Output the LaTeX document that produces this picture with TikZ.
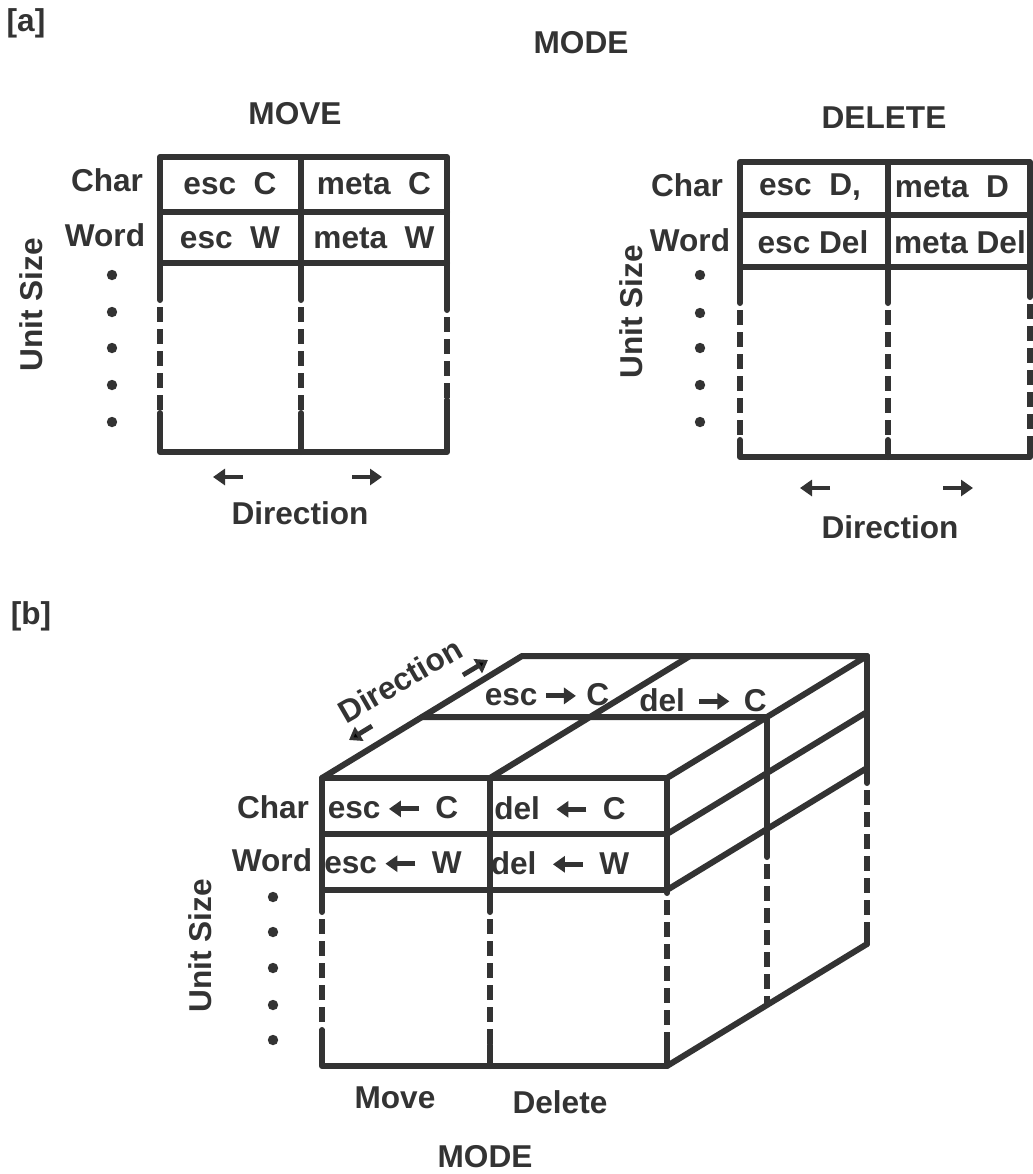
\documentclass[tikz,border=0pt]{standalone}
\usepackage{fontspec}
\setmainfont{Liberation Sans}
\usetikzlibrary{arrows.meta,positioning,calc}
\definecolor{inkgray}{HTML}{333333}

\newcommand{\leftarr}{\tikz[baseline={(0,-5pt)}]\draw[draw=inkgray,line width=2.4pt,-{Triangle[length=6pt,width=8pt]}] (0,0) -- (-15pt,0);}
\newcommand{\rightarr}{\tikz[baseline={(0,-5pt)}]\draw[draw=inkgray,line width=2.4pt,-{Triangle[length=6pt,width=8pt]}] (0,0) -- (15pt,0);}

\begin{document}
\begin{tikzpicture}[x=0.5pt,y=-0.5pt,
      lbl/.style={font=\fontsize{15.8}{18}\selectfont\bfseries,text=inkgray,inner sep=1pt},
      frame/.style={line width=3pt,draw=inkgray,line cap=round,line join=round},
      broken/.style={line width=3.2pt,draw=inkgray,dash pattern=on 7.5pt off 3.5pt,dash phase=7.5pt},
      dirarr/.style={line width=2.4pt,draw=inkgray,-{Triangle[length=6pt,width=8pt]}}]
    \useasboundingbox (0,0) rectangle (1033,1174);

    % (a) one table per mode
    \node[lbl] (tagA) at (26,23) {[a]};
    \node[lbl] (modeTop) at (581,43) {MODE};

    % MOVE table
    \node[lbl] (moveHead) at (295,114) {MOVE};
    \draw[frame] (160,300) -- (160,157) -- (447,157) -- (447,310);
    \draw[frame] (160,212) -- (447,212) (160,263) -- (447,263) (301,157) -- (301,300);
    \draw[broken] (160,300) -- (160,413) (301,300) -- (301,413) (447,310) -- (447,400);
    \draw[frame] (160,413) -- (160,452) -- (447,452) -- (447,400) (301,413) -- (301,452);
    \node[lbl] (mvEscC) at (230,184) {esc~~C};
    \node[lbl] (mvMetaC) at (374,184) {meta~~C};
    \node[lbl] (mvEscW) at (230,238) {esc~~W};
    \node[lbl] (mvMetaW) at (374,238) {meta~~W};
    \node[lbl] (mvChar) at (107,180) {Char};
    \node[lbl] (mvWord) at (105,235) {Word};
    \fill[inkgray] (112,275) circle[radius=2.6pt] (112,312) circle[radius=2.6pt]
      (112,348) circle[radius=2.6pt] (112,385) circle[radius=2.6pt] (112,422) circle[radius=2.6pt];
    \node[lbl,rotate=90] (mvUnit) at (31,305) {Unit Size};
    \draw[dirarr] (243,477) -- (213,477);
    \draw[dirarr] (352,477) -- (382,477);
    \node[lbl] (mvDir) at (300,513) {Direction};

    % DELETE table
    \node[lbl] (delHead) at (884,118) {DELETE};
    \draw[frame] (740,303) -- (740,162) -- (1030,162) -- (1030,297);
    \draw[frame] (740,215) -- (1030,215) (740,267) -- (1030,267) (888,162) -- (888,303);
    \draw[broken] (740,303) -- (740,440) (888,303) -- (888,440) (1030,297) -- (1030,440);
    \draw[frame] (740,440) -- (740,457) -- (1030,457) -- (1030,440) (888,440) -- (888,457);
    \node[lbl] (dlEscD) at (810,187) {esc~~D,};
    \node[lbl] (dlMetaD) at (952,187) {meta~~D};
    \node[lbl] (dlEscDel) at (813,242) {esc Del};
    \node[lbl] (dlMetaDel) at (960,242) {meta Del};
    \node[lbl] (dlChar) at (687,185) {Char};
    \node[lbl] (dlWord) at (690,240) {Word};
    \fill[inkgray] (700,275) circle[radius=2.6pt] (700,313) circle[radius=2.6pt]
      (700,348) circle[radius=2.6pt] (700,385) circle[radius=2.6pt] (700,422) circle[radius=2.6pt];
    \node[lbl,rotate=90] (dlUnit) at (631,312) {Unit Size};
    \draw[dirarr] (830,488) -- (800,488);
    \draw[dirarr] (943,488) -- (973,488);
    \node[lbl] (dlDir) at (890,527) {Direction};

    % (b) the three axes as one box
    \node[lbl] (tagB) at (31,616) {[b]};
    % top face
    \draw[frame] (322,778) -- (522,656) -- (867,656) -- (667,778);
    \draw[frame] (490,778) -- (690,656) (422,717) -- (767,717);
    % front face
    \draw[frame] (322,912) -- (322,778) -- (667,778) -- (667,893);
    \draw[frame] (322,834) -- (667,834) (322,890) -- (667,890) (490,778) -- (490,912);
    \draw[broken] (322,912) -- (322,1030) (490,912) -- (490,1045) (667,893) -- (667,1040);
    \draw[frame] (322,1030) -- (322,1066) -- (667,1066) -- (667,1040) (490,1045) -- (490,1066);
    % side face
    \draw[frame] (667,834) -- (867,712) (667,890) -- (867,768) (667,1066) -- (867,944);
    \draw[frame] (767,717) -- (767,857) (867,656) -- (867,783);
    \draw[broken] (767,857) -- (767,1005) (867,783) -- (867,932);
    \draw[frame] (867,932) -- (867,944);

    \node[lbl] (cbEscRC) at (547,695) {esc\hspace{3pt}\rightarr\hspace{4pt}C};
    \node[lbl] (cbDelRC) at (703,700) {del\hspace{6pt}\rightarr\hspace{6pt}C};
    \node[lbl] (cbEscLC) at (393,808) {esc\hspace{3pt}\leftarr\hspace{7pt}C};
    \node[lbl] (cbDelLC) at (560,808) {del\hspace{7pt}\leftarr\hspace{7pt}C};
    \node[lbl] (cbEscLW) at (393,863) {esc\hspace{3pt}\leftarr\hspace{7pt}W};
    \node[lbl] (cbDelLW) at (560,863) {del\hspace{7pt}\leftarr\hspace{7pt}W};
    \node[lbl] (cbChar) at (273,807) {Char};
    \node[lbl] (cbWord) at (272,860) {Word};
    \fill[inkgray] (273,897) circle[radius=2.6pt] (273,932) circle[radius=2.6pt]
      (273,968) circle[radius=2.6pt] (273,1005) circle[radius=2.6pt] (273,1040) circle[radius=2.6pt];
    \node[lbl,rotate=90] (cbUnit) at (200,946) {Unit Size};
    \node[lbl,rotate=30] (cbDir) at (400,680) {Direction};
    \draw[dirarr] (463,675) -- (488,660);
    \draw[dirarr] (372,726) -- (349,740);
    \node[lbl] (cbMove) at (395,1098) {Move};
    \node[lbl] (cbDelete) at (560,1102) {Delete};
    \node[lbl] (modeBottom) at (485,1157) {MODE};
  \end{tikzpicture}
\end{document}
